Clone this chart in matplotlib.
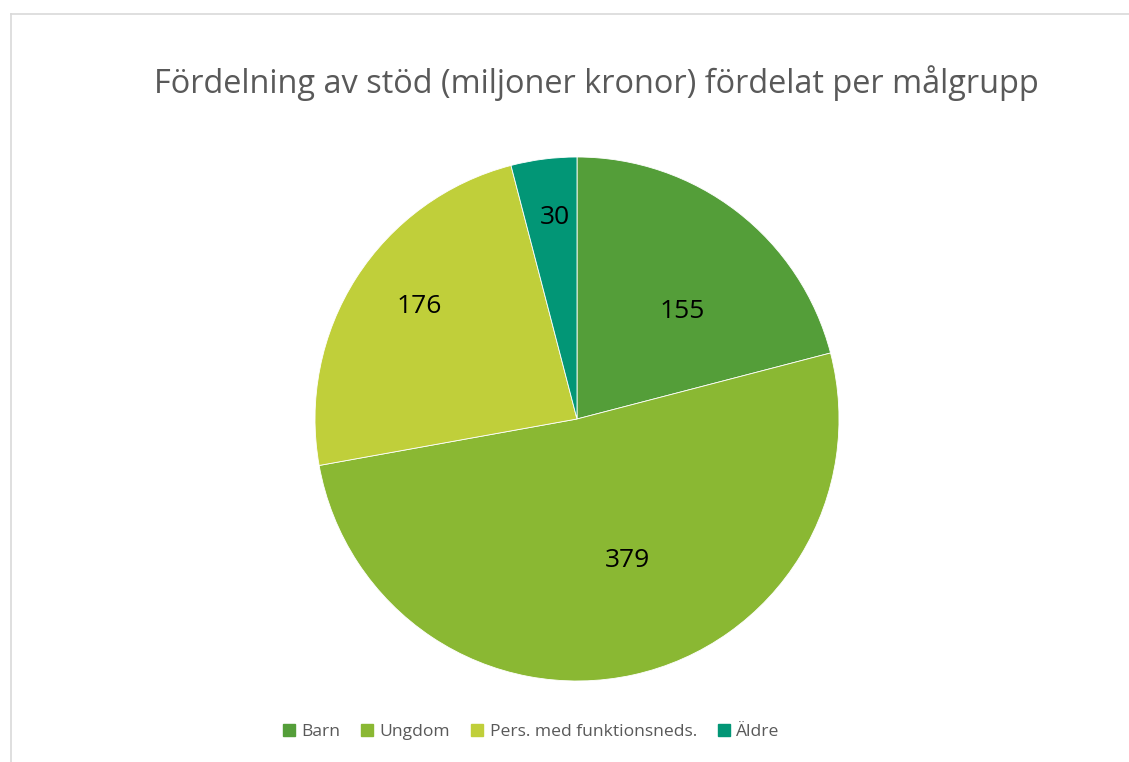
import matplotlib
matplotlib.use("Agg")
import matplotlib.pyplot as plt
from matplotlib.lines import Line2D
import numpy as np

categories = ["Barn", "Ungdom", "Pers. med funktionsneds.", "Äldre"]
values = [155, 379, 176, 30]
colors = ["#549E39", "#8AB833", "#C0CF3A", "#029676"]
title = "Fördelning av stöd (miljoner kronor) fördelat per målgrupp"

plt.rcParams['font.family'] = ['Open Sans', 'DejaVu Sans']

W, H = 1129, 762
fig = plt.figure(figsize=(W / 100, H / 100), dpi=100)

cx, cy, r = 577, 419, 262
ax = fig.add_axes([(cx - r) / W, (H - cy - r) / H, 2 * r / W, 2 * r / H])
wedges, texts = ax.pie(values, colors=colors, startangle=90, counterclock=False,
                       wedgeprops=dict(edgecolor="white", linewidth=0.6),
                       labels=[str(v) for v in values], labeldistance=None)
ax.set_xlim(-1, 1)
ax.set_ylim(-1, 1)
ax.set_aspect("equal")
ax.axis("off")

# label placement: (radius fraction, angle offset in degrees) per wedge
label_layout = [(0.575, -6.8), (0.575, 7.3), (0.74, -3.0), (0.775, -1.0)]
for w, v, (rf, da) in zip(wedges, values, label_layout):
    mid = np.deg2rad((w.theta1 + w.theta2) / 2 + da)
    ax.text(rf * np.cos(mid), rf * np.sin(mid), str(v), ha="center", va="center",
            fontsize=19, color="black")

fig.text(596 / W, 1 - 83 / H, title, ha="center", va="center", fontsize=23.4, color="#595959")

handles = [Line2D([], [], marker="s", linestyle="none", markersize=9,
                  markerfacecolor=c, markeredgecolor=c) for c in colors]
fig.legend(handles, categories, loc="center", bbox_to_anchor=(531 / W, 1 - 732 / H),
           ncol=4, frameon=False, fontsize=12.6, labelcolor="#595959",
           handlelength=0.75, handletextpad=0.35, columnspacing=1.15)

# chart border (left and top visible)
fig.add_artist(Line2D([10.5 / W, 10.5 / W], [0, 1 - 13.5 / H], transform=fig.transFigure,
                      color="#D9D9D9", linewidth=1.2))
fig.add_artist(Line2D([10.5 / W, 1], [1 - 13.5 / H, 1 - 13.5 / H], transform=fig.transFigure,
                      color="#D9D9D9", linewidth=1.2))

fig.savefig("out.png", dpi=100, facecolor="white")
